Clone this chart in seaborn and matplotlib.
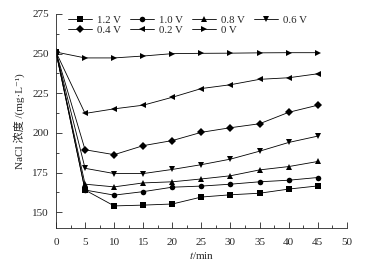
import pandas as pd
import matplotlib.pyplot as plt
import seaborn as sns
from matplotlib.ticker import MultipleLocator

# data
times = [0, 5, 10, 15, 20, 25, 30, 35, 40, 45]
voltages = ['1.2 V', '1.0 V', '0.8 V', '0.6 V', '0.4 V', '0.2 V', '0 V']
v12 = [251, 164, 154, 154.5, 155.2, 159.6, 161, 162, 164.6, 166.6]
v10 = [251, 164, 160.8, 163, 165.8, 166.5, 167.7, 169.2, 170.2, 171.9]
v08 = [251, 167.7, 166, 168.5, 169.2, 171, 173, 176.7, 178.8, 182]
v06 = [251, 177.7, 174.4, 174.4, 177, 180, 183.5, 188.5, 194, 198]
v04 = [251, 189.4, 186.3, 192, 195.2, 200.4, 203.3, 205.8, 213, 217.5]
v02 = [251, 212.3, 215.2, 217.5, 222.5, 228, 230.4, 233.8, 234.8, 237.3]
v00 = [251, 247.3, 247.3, 248.5, 250, 250.2, 250.3, 250.5, 250.6, 250.6]
series = [v12, v10, v08, v06, v04, v02, v00]
markers = ['s', 'o', '^', 'v', 'D', '<', '>']

df = pd.DataFrame([(v, t, c) for v, vals in zip(voltages, series)
                   for t, c in zip(times, vals)],
                  columns=['voltage', 't', 'conc'])

sns.set_style('ticks')
plt.rcParams['font.family'] = ['Liberation Serif', 'Noto Sans CJK SC', 'DejaVu Serif']
plt.rcParams['mathtext.fontset'] = 'stix'
plt.rcParams['font.size'] = 8

fig = plt.figure(figsize=(3.77, 2.69), dpi=100)
ax = fig.add_axes([0.1485, 0.152, 0.7715, 0.796])

sns.lineplot(data=df, x='t', y='conc', hue='voltage', style='voltage',
             hue_order=voltages, style_order=voltages,
             palette=['black'] * 7, markers=markers, dashes=False,
             linewidth=0.6, markersize=4, markeredgewidth=0,
             ax=ax, legend=True)

ax.set_xlim(0, 50)
ax.set_ylim(140, 275)
ax.xaxis.set_major_locator(MultipleLocator(5))
ax.xaxis.set_minor_locator(MultipleLocator(2.5))
ax.yaxis.set_major_locator(MultipleLocator(25))
ax.yaxis.set_minor_locator(MultipleLocator(12.5))
ax.tick_params(which='both', direction='in', width=0.6, labelsize=8)
ax.tick_params(axis='x', pad=7)
ax.tick_params(axis='y', pad=5)
ax.tick_params(which='major', length=4)
ax.tick_params(which='minor', length=2)
for s in ['top', 'right']:
    ax.spines[s].set_visible(False)
for s in ['left', 'bottom']:
    ax.spines[s].set_linewidth(0.6)

ax.set_xlabel('$t$/min', fontsize=8, labelpad=2)
ax.set_ylabel('NaCl 浓度 /(mg·L⁻¹)', fontsize=8, labelpad=5)

# legend: column-wise fill, so reorder to get rows 1.2,1.0,0.8,0.6 / 0.4,0.2,0
handles, labels = ax.get_legend_handles_labels()
lookup = dict(zip(labels, handles))
order = ['1.2 V', '0.4 V', '1.0 V', '0.2 V', '0.8 V', '0 V', '0.6 V']
ax.legend([lookup[o] for o in order], order, ncol=4, loc='upper left',
          bbox_to_anchor=(0.02, 1.025), frameon=False, fontsize=7.8,
          handlelength=2.2, handletextpad=0.45, columnspacing=0.85,
          labelspacing=0.05, borderaxespad=0.2)

fig.savefig('out.png', dpi=100)
